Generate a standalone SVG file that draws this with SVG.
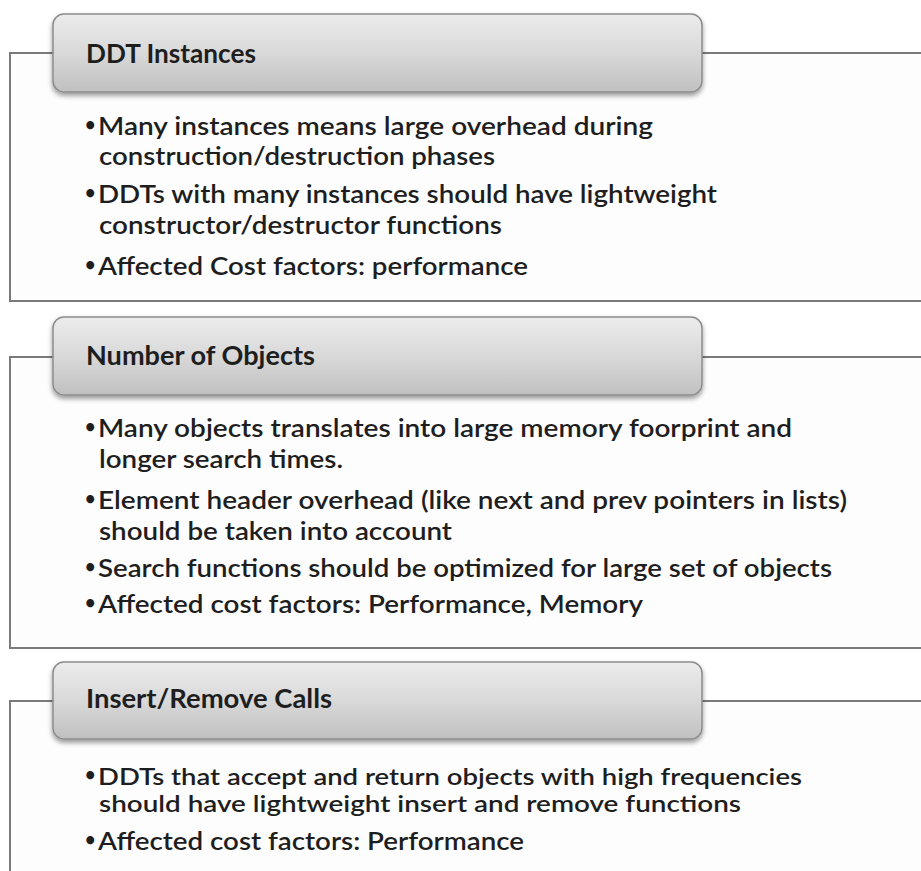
<svg xmlns="http://www.w3.org/2000/svg" width="921" height="871" viewBox="0 0 921 871">
  <defs>
    <linearGradient id="hdrFill" x1="0" y1="0" x2="0" y2="1">
      <stop offset="0" stop-color="#ececec"/>
      <stop offset="0.5" stop-color="#d9d9d9"/>
      <stop offset="1" stop-color="#c0c0c0"/>
    </linearGradient>
    <filter id="hdrShadow" x="-5%" y="-20%" width="110%" height="150%">
      <feDropShadow dx="0" dy="3" stdDeviation="2.5" flood-color="#000" flood-opacity="0.4"/>
    </filter>
  </defs>
  <style>
    .frame { fill: #fdfdfd; stroke: #7a7a7a; stroke-width: 2; }
    .hdr { fill: url(#hdrFill); stroke: #8c8c8c; stroke-width: 1.5; filter: url(#hdrShadow); }
    .title { font-family: Lato, "Open Sans", "Liberation Sans", sans-serif; font-size: 26px; font-weight: 700; fill: #1e1e1e; }
    .body { font-family: Lato, "Open Sans", "Liberation Sans", sans-serif; font-size: 24px; font-weight: 600; fill: #1e1e1e; }
    .tight { font-size: 22px; }
    .dot { font-family: Lato, "Open Sans", "Liberation Sans", sans-serif; font-size: 18px; font-weight: 700; fill: #1e1e1e; }
  </style>
  <rect width="921" height="871" fill="#ffffff"/>

  <!-- section 1 -->
  <g id="ddt-instances">
    <rect class="frame" x="10" y="53" width="930" height="248"/>
    <rect class="hdr" x="53" y="14" width="649" height="78" rx="11"/>
    <text class="title" x="86" y="63" textLength="170" lengthAdjust="spacingAndGlyphs">DDT Instances</text>
    <text class="dot" x="85" y="131">•</text>
    <text class="body" x="98" y="135" textLength="555" lengthAdjust="spacingAndGlyphs">Many instances means large overhead during</text>
    <text class="body" x="99" y="165" textLength="396" lengthAdjust="spacingAndGlyphs">construction/destruction phases</text>
    <text class="dot" x="85" y="199">•</text>
    <text class="body" x="98" y="203" textLength="619" lengthAdjust="spacingAndGlyphs">DDTs with many instances should have lightweight</text>
    <text class="body" x="99" y="234" textLength="403" lengthAdjust="spacingAndGlyphs">constructor/destructor functions</text>
    <text class="dot" x="85" y="271">•</text>
    <text class="body" x="98" y="275" textLength="430" lengthAdjust="spacingAndGlyphs">Affected Cost factors: performance</text>
  </g>

  <!-- section 2 -->
  <g id="number-of-objects">
    <rect class="frame" x="10" y="357" width="930" height="291"/>
    <rect class="hdr" x="53" y="317" width="649" height="78" rx="11"/>
    <text class="title" x="86" y="365" textLength="229" lengthAdjust="spacingAndGlyphs">Number of Objects</text>
    <text class="dot" x="85" y="433">•</text>
    <text class="body" x="98" y="437" textLength="694" lengthAdjust="spacingAndGlyphs">Many objects translates into large memory foorprint and</text>
    <text class="body" x="99" y="468" textLength="244" lengthAdjust="spacingAndGlyphs">longer search times.</text>
    <text class="dot" x="85" y="505">•</text>
    <text class="body" x="98" y="509" textLength="749" lengthAdjust="spacingAndGlyphs">Element header overhead (like next and prev pointers in lists)</text>
    <text class="body" x="99" y="540" textLength="353" lengthAdjust="spacingAndGlyphs">should be taken into account</text>
    <text class="dot" x="85" y="573">•</text>
    <text class="body" x="98" y="577" textLength="734" lengthAdjust="spacingAndGlyphs">Search functions should be optimized for large set of objects</text>
    <text class="dot" x="85" y="609">•</text>
    <text class="body" x="98" y="613" textLength="545" lengthAdjust="spacingAndGlyphs">Affected cost factors: Performance, Memory</text>
  </g>

  <!-- section 3 -->
  <g id="insert-remove-calls">
    <rect class="frame" x="10" y="701" width="930" height="200"/>
    <rect class="hdr" x="53" y="662" width="649" height="77" rx="11"/>
    <text class="title" x="86" y="708" textLength="246" lengthAdjust="spacingAndGlyphs">Insert/Remove Calls</text>
    <text class="dot" x="85" y="781">•</text>
    <text class="body tight" x="98" y="785" textLength="704" lengthAdjust="spacingAndGlyphs">DDTs that accept and return objects with high frequencies</text>
    <text class="body tight" x="99" y="812" textLength="642" lengthAdjust="spacingAndGlyphs">should have lightweight insert and remove functions</text>
    <text class="dot" x="85" y="846">•</text>
    <text class="body" x="98" y="850" textLength="426" lengthAdjust="spacingAndGlyphs">Affected cost factors: Performance</text>
  </g>

  <!-- sections stand alone; no links between them -->
  <g id="connectors"/>
</svg>
